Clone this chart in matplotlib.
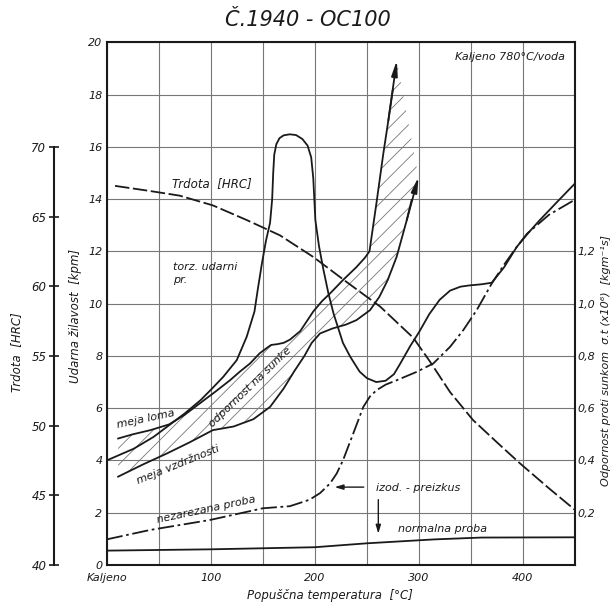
import numpy as np
import matplotlib
matplotlib.use("Agg")
import matplotlib.pyplot as plt

plt.rcParams['font.family'] = ['DejaVu Sans']
plt.rcParams['hatch.linewidth'] = 0.6

# ---------------- data ----------------
# torsion impact test (kpm)
torz_T = [0, 26, 45, 60, 75, 90, 100, 112, 125, 134.5, 142, 145, 149, 153, 157, 159, 160, 161,
          163, 166, 170, 176, 182, 188, 193, 196.5, 198.5, 199.5, 200.5, 204, 208, 213, 218,
          227, 234, 243, 250, 259, 268, 276, 282, 292, 300, 310, 320, 330, 340, 349, 360, 370,
          382, 394, 405, 416, 433, 450]
torz_V = [4.0, 4.45, 4.9, 5.35, 5.8, 6.3, 6.7, 7.2, 7.84, 8.73, 9.7, 10.5, 11.5, 12.4, 13.1, 14.0,
          15.0, 15.7, 16.1, 16.33, 16.44, 16.48, 16.45, 16.3, 16.05, 15.6, 14.8, 14.0, 13.2,
          12.2, 11.35, 10.4, 9.62, 8.5, 7.97, 7.4, 7.15, 7.0, 7.05, 7.3, 7.7, 8.4, 8.9, 9.6,
          10.15, 10.5, 10.65, 10.7, 10.74, 10.8, 11.4, 12.17, 12.7, 13.19, 13.9, 14.6]

# hardness HRC
hrc_T = [8, 40, 70, 102, 134.5, 166.5, 198.5, 230.6, 262.6, 294.6, 310.6, 330, 352, 375, 397, 425, 450]
hrc_V = [67.2, 66.85, 66.5, 65.8, 64.75, 63.65, 62.1, 60.3, 58.55, 56.3, 54.6, 52.4, 50.4, 48.8,
         47.3, 45.5, 43.95]

# shock resistance band (right axis x10): meja loma (upper), meja vzdrznosti (lower)
loma_T = [11, 25, 42, 60, 75, 90, 105, 118.5, 128, 137.7, 147, 153.7, 158, 164, 170, 176, 186,
          198.5, 207, 214.6, 227, 240, 248, 252.5, 259.4, 265.8, 270.6, 275, 278.8]
loma_V = [4.84, 5.0, 5.16, 5.38, 5.75, 6.2, 6.65, 7.07, 7.4, 7.71, 8.1, 8.3, 8.42, 8.45, 8.5,
          8.62, 8.95, 9.7, 10.1, 10.39, 10.9, 11.4, 11.75, 12.0, 13.9, 15.74, 17.0, 18.2, 19.31]
vzdr_T = [11, 35, 58, 80, 102, 122, 141, 157, 170, 180, 190, 197, 205, 217, 230, 240, 253, 262,
          270, 278.6, 288.3, 293, 299.6]
vzdr_V = [3.38, 3.85, 4.27, 4.7, 5.16, 5.3, 5.58, 6.05, 6.75, 7.4, 8.0, 8.5, 8.86, 9.05, 9.2,
          9.37, 9.75, 10.26, 10.9, 11.79, 13.19, 13.96, 14.85]

# Izod test: unnotched (nezarezana) and normal specimen
nez_T = [0, 41.6, 99, 150, 176, 186, 195, 205, 214.6, 221, 227, 237, 246.6, 253, 259.4, 268,
         278.7, 297.9, 313.8, 330, 342.7, 355.5, 370, 382, 394, 404, 425, 450]
nez_V = [0.98, 1.34, 1.72, 2.17, 2.25, 2.38, 2.5, 2.75, 3.12, 3.5, 4.0, 5.04, 6.05, 6.45, 6.69,
         6.9, 7.07, 7.39, 7.71, 8.35, 8.99, 9.75, 10.77, 11.5, 12.17, 12.68, 13.4, 13.98]
norm_T = [0, 100, 200, 250, 315, 360, 450]
norm_V = [0.55, 0.6, 0.68, 0.83, 0.98, 1.05, 1.06]

x_ticks = [0, 100, 200, 300, 400]
x_labels = ['Kaljeno', '100', '200', '300', '400']
y_ticks = list(range(0, 21, 2))
hrc_ticks = [40, 45, 50, 55, 60, 65, 70]
right_ticks = [0.2, 0.4, 0.6, 0.8, 1.0, 1.2]
right_labels = ['0,2', '0,4', '0,6', '0,8', '1,0', '1,2']

# ---------------- figure ----------------
W, H = 616, 608
fig = plt.figure(figsize=(W / 100, H / 100), dpi=100)
ax = fig.add_axes([106.7 / W, 43 / H, (575 - 106.7) / W, (565 - 42.3) / H])
ink = '#1a1a1a'
ital = dict(fontstyle='italic', color=ink)

ax.set_xlim(0, 450)
ax.set_ylim(0, 20)
ax.set_xticks(x_ticks, x_labels, **ital, fontsize=8)
ax.set_xticks(np.arange(0, 451, 50), minor=True)
ax.set_yticks(y_ticks, [str(v) for v in y_ticks], **ital, fontsize=8)
ax.tick_params(which='both', length=0)
ax.tick_params(axis='x', pad=6)
ax.tick_params(axis='y', pad=3)
ax.grid(which='both', color='#777777', lw=0.8)
ax.set_axisbelow(True)
for s in ax.spines.values():
    s.set_linewidth(1.5)
    s.set_color(ink)

lw = 1.3
ax.plot(torz_T, torz_V, color=ink, lw=lw, solid_joinstyle='round')
ax.plot(nez_T, nez_V, color=ink, lw=lw, dashes=[9, 2, 1.5, 2])
ax.plot(norm_T, norm_V, color=ink, lw=lw)

# hatched band
poly_T = list(loma_T) + list(vzdr_T[::-1])
poly_V = list(loma_V) + list(vzdr_V[::-1])
ax.fill(poly_T, poly_V, facecolor='none', edgecolor='#777777', hatch='//', linewidth=0)
ax.plot(loma_T[:-1], loma_V[:-1], color=ink, lw=lw)
ax.plot(vzdr_T[:-1], vzdr_V[:-1], color=ink, lw=lw)
arrow = dict(arrowstyle='-|>,head_length=0.9,head_width=0.18', color=ink, lw=lw,
             shrinkA=0, shrinkB=0)
ax.annotate('', xy=(loma_T[-1], loma_V[-1]), xytext=(loma_T[-3], loma_V[-3]), arrowprops=arrow)
ax.annotate('', xy=(vzdr_T[-1], vzdr_V[-1]), xytext=(vzdr_T[-3], vzdr_V[-3]), arrowprops=arrow)

# hardness axis
ax2 = ax.twinx()
ax2.set_ylim(40, 40 + 20 * 30 / 16)
ax2.plot(hrc_T, hrc_V, color=ink, lw=lw, dashes=[8, 2])
ax2.spines['left'].set_position(('axes', (54 - 106.7) / (575 - 106.7)))
ax2.spines['left'].set_visible(True)
ax2.spines['left'].set_bounds(40, 70)
ax2.spines['left'].set_linewidth(1.5)
ax2.spines['left'].set_color(ink)
for k in ('right', 'top', 'bottom'):
    ax2.spines[k].set_visible(False)
ax2.yaxis.tick_left()
ax2.set_yticks(hrc_ticks, [str(v) for v in hrc_ticks], **ital, fontsize=8.5)
ax2.tick_params(axis='y', direction='inout', length=7, width=1.2, color=ink, pad=2)

# right axis
ax3 = ax.twinx()
ax3.set_ylim(0, 2)
for s in ax3.spines.values():
    s.set_visible(False)
ax3.set_yticks(right_ticks, right_labels, **ital, fontsize=8)
ax3.tick_params(axis='y', length=0, pad=2)

# annotations
small = dict(fontsize=8, **ital)
ax.text(387.5, 19.43, 'Kaljeno 780°C/voda', ha='center', va='center', **small)
ax.text(101, 14.6, 'Trdota  [HRC]', ha='center', va='center', fontsize=8.5, **ital)
ax.text(64, 11.15, 'torz. udarni\npr.', ha='left', va='center', linespacing=1.4, **small)
ax.text(38, 5.6, 'meja loma', ha='center', va='center', rotation=12, **small)
ax.text(138, 6.8, 'odpornost na sunke', ha='center', va='center', rotation=44, **small)
ax.text(68.5, 3.85, 'meja vzdržnosti', ha='center', va='center', rotation=22, **small)
ax.text(96, 2.12, 'nezarezana proba', ha='center', va='center', rotation=12, **small)
ax.text(299, 2.93, 'izod. - preizkus', ha='center', va='center', **small)
ax.text(323, 1.38, 'normalna proba', ha='center', va='center', **small)
small_arrow = dict(arrowstyle='-|>,head_length=0.5,head_width=0.15', color=ink, lw=1.0,
                   shrinkA=0, shrinkB=0)
ax.annotate('', xy=(219, 2.98), xytext=(247, 2.98), arrowprops=small_arrow)
ax.annotate('', xy=(261, 1.2), xytext=(261, 2.5), arrowprops=small_arrow)

# axis labels
fig.text(308 / W, 1 - 20 / H, 'Č.1940 - OC100', ha='center', va='center', fontsize=15, **ital)
fig.text(330 / W, 1 - 595 / H, 'Popuščna temperatura  [°C]', ha='center', va='center',
         fontsize=8.5, **ital)
fig.text(76 / W, 1 - 316 / H, 'Udarna žilavost  [kpm]', ha='center', va='center',
         rotation=90, fontsize=8.5, **ital)
fig.text(17 / W, 1 - 352 / H, 'Trdota  [HRC]', ha='center', va='center',
         rotation=90, fontsize=8.5, **ital)
fig.text(606 / W, 1 - 360 / H, 'Odpornost proti sunkom  σ.t (x10⁶)  [kgm⁻¹s]', ha='center',
         va='center', rotation=90, fontsize=8, **ital)

fig.savefig('out.png', dpi=100)
